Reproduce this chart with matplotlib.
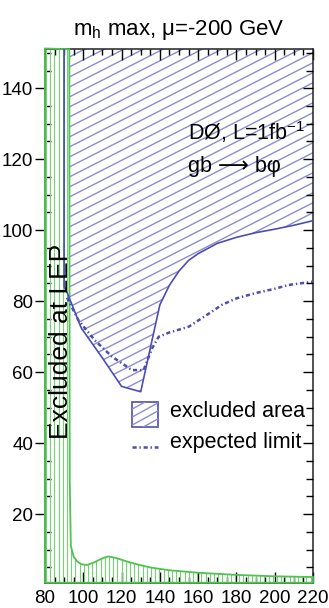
import numpy as np
import matplotlib
matplotlib.use('Agg')
import matplotlib.pyplot as plt
from matplotlib.patches import Polygon, Rectangle
from matplotlib.collections import LineCollection
from matplotlib.lines import Line2D

plt.rcParams['font.family'] = ['Liberation Sans', 'DejaVu Sans']
plt.rcParams['mathtext.fontset'] = 'custom'
plt.rcParams['mathtext.rm'] = 'Liberation Sans'
plt.rcParams['mathtext.it'] = 'Liberation Sans:italic'
plt.rcParams['lines.scale_dashes'] = False

# ---------------- data ----------------
# LEP excluded region boundary (mA, tan beta)
lep_mA = [92.7, 92.9, 93.5, 95, 97, 99, 102, 106, 110, 113, 117, 122, 128, 135, 145, 160, 180, 200, 220]
lep_tanb = [151, 30, 11, 8, 6.6, 5.9, 5.7, 6.5, 7.6, 8.1, 7.7, 6.8, 5.9, 5.0, 4.2, 3.5, 2.9, 2.5, 2.3]

# observed D0 exclusion boundary
obs_mA = [90, 90, 91.5, 95, 99, 110, 120, 130, 140, 145, 150, 155, 160, 170, 180, 190, 200, 210, 220]
obs_tanb = [151, 84, 82.5, 77.8, 72.4, 64, 56, 54.5, 79, 84.5, 88.5, 91.5, 93.4, 96.3, 98, 99.3, 100.3, 101.4, 102.7]

# expected limit
exp_mA = [91.5, 97.4, 106, 115, 125.4, 131.5, 136, 139.4, 145, 155, 165, 172.5, 180, 190, 200, 207.4, 220]
exp_tanb = [81, 74.7, 69, 64.4, 60.6, 60.6, 66.8, 70, 71.2, 72.8, 76.3, 79, 80.8, 82.3, 83.5, 84.6, 85.5]

x_ticks = [80, 100, 120, 140, 160, 180, 200, 220]
y_ticks = [20, 40, 60, 80, 100, 120, 140]

XMIN, XMAX = 80, 220
YMIN, YMAX = 0.7, 151.2

BLUE = '#4d4db3'
BLUE_H = '#8c8cd2'
GREEN = '#4fc24f'
GREEN_H = '#74d274'

W, H = 329, 608
fig = plt.figure(figsize=(W / 100, H / 100), dpi=100)
ax_l, ax_r, ax_t, ax_b = 45, 313, 48.5, 582.7
ax = fig.add_axes([ax_l / W, 1 - ax_b / H, (ax_r - ax_l) / W, (ax_b - ax_t) / H])
ax.set_xlim(XMIN, XMAX)
ax.set_ylim(YMIN, YMAX)
AW, AH = ax_r - ax_l, ax_b - ax_t


def diag_hatch(clip_patch, slope=0.51, vstep=10.0, color=BLUE_H, lw=1.0, zorder=1):
    segs = []
    c = -slope * AW
    while c < AH:
        segs.append([(0, c / AH), (1, (c + slope * AW) / AH)])
        c += vstep
    lc = LineCollection(segs, colors=color, linewidths=lw, transform=ax.transAxes, zorder=zorder)
    ax.add_collection(lc)
    lc.set_clip_path(clip_patch)


def vert_hatch(clip_patch, step=4.2, color=GREEN_H, lw=0.8, zorder=2):
    segs = []
    x = 1.0
    while x < AW:
        segs.append([(x / AW, 0), (x / AW, 1)])
        x += step
    lc = LineCollection(segs, colors=color, linewidths=lw, transform=ax.transAxes, zorder=zorder)
    ax.add_collection(lc)
    lc.set_clip_path(clip_patch)


# excluded region (D0)
excl_verts = [(obs_mA[0], YMAX)] + list(zip(obs_mA, obs_tanb)) + [(XMAX, YMAX)]
excl = Polygon(excl_verts, closed=True, facecolor='none', edgecolor='none', zorder=1)
ax.add_patch(excl)
diag_hatch(excl)

# LEP region
lep_verts = [(XMIN, YMAX)] + list(zip(lep_mA, lep_tanb)) + [(XMAX, YMIN), (XMIN, YMIN)]
lep_fill = Polygon(lep_verts, closed=True, facecolor='white', edgecolor='none', zorder=1.5)
ax.add_patch(lep_fill)
vert_hatch(lep_fill)
lep_edge = Polygon(lep_verts, closed=True, facecolor='none', edgecolor=GREEN, lw=1.3,
                   zorder=3, clip_on=False)
ax.add_patch(lep_edge)

# observed boundary
ax.plot(obs_mA, obs_tanb, color=BLUE, lw=1.2, zorder=4)
# expected
ax.plot(exp_mA, exp_tanb, color=BLUE, lw=1.8, linestyle=(0, (3, 2.0, 1.0, 2.0)), zorder=4)

# ticks
ax.set_xticks(x_ticks)
ax.set_xticks(np.arange(XMIN, XMAX + 1, 5), minor=True)
ax.set_yticks(y_ticks)
ax.set_yticks(np.arange(5, 151, 5), minor=True)
ax.tick_params(axis='x', which='major', direction='in', top=True, bottom=True, length=8, width=1,
               labelsize=13.5, pad=5.5)
ax.tick_params(axis='x', which='minor', direction='in', top=True, bottom=True, length=4.5, width=1)
ax.tick_params(axis='y', which='major', direction='out', left=True, right=False, length=7, width=1,
               labelsize=13.5, pad=1.5)
ax.tick_params(axis='y', which='minor', direction='in', left=True, right=False, length=4.5, width=1)
for s in ax.spines.values():
    s.set_linewidth(1.1)
    s.set_color('#222222')

ax2 = ax.twinx()
ax2.set_ylim(YMIN, YMAX)
ax2.set_yticks(y_ticks)
ax2.set_yticks(np.arange(5, 151, 5), minor=True)
ax2.tick_params(axis='y', which='major', direction='in', length=7, width=1, labelright=False)
ax2.tick_params(axis='y', which='minor', direction='in', length=5, width=1)
for s in ax2.spines.values():
    s.set_visible(False)

# texts
fig.text(179 / W, 1 - 35 / H, r'$\mathrm{m_h}$ max, μ=-200 GeV', ha='center', va='baseline',
         fontsize=16)


def axf(px, py):
    return ((px - ax_l) / AW, (ax_b - py) / AH)


ax.text(*axf(188.3, 140), r'DØ, L=1fb$^{\mathrm{-1}}$', transform=ax.transAxes, fontsize=15.5,
        ha='left', va='baseline', zorder=5)
ax.text(*axf(188.3, 171.5), 'gb ⟶ bφ', transform=ax.transAxes, fontsize=15.5,
        ha='left', va='baseline', zorder=5)
ax.text(*axf(67.5, 341), 'Excluded at LEP', transform=ax.transAxes, fontsize=19,
        rotation=90, rotation_mode='anchor', ha='center', va='baseline', zorder=5)

# legend
x0, y0 = axf(131.7, 426.7)
x1, y1 = axf(158.3, 401.7)
box = Rectangle((x0, y0), x1 - x0, y1 - y0, transform=ax.transAxes, facecolor='white',
                edgecolor=BLUE, lw=1.2, zorder=5)
ax.add_patch(box)
segs = []
bw, bh = 158.3 - 131.7, 426.7 - 401.7
c = -0.55 * bw
while c < bh:
    segs.append([(x0, y0 + c / AH), (x1, y0 + (c + 0.55 * bw) / AH)])
    c += 8.0
lc = LineCollection(segs, colors=BLUE_H, linewidths=1.0, transform=ax.transAxes, zorder=5.5)
ax.add_collection(lc)
lc.set_clip_path(box)
ly = axf(0, 446.7)[1]
ax.add_line(Line2D([x0, x1], [ly, ly], transform=ax.transAxes, color=BLUE, lw=1.8,
                   linestyle=(0, (3, 2.0, 1.0, 2.0)), zorder=5))
ax.text(*axf(170, 416.7), 'excluded area', transform=ax.transAxes, fontsize=15.5,
        ha='left', va='baseline', zorder=5)
ax.text(*axf(170, 448.3), 'expected limit', transform=ax.transAxes, fontsize=15.5,
        ha='left', va='baseline', zorder=5)

fig.savefig('out.png', dpi=100)
